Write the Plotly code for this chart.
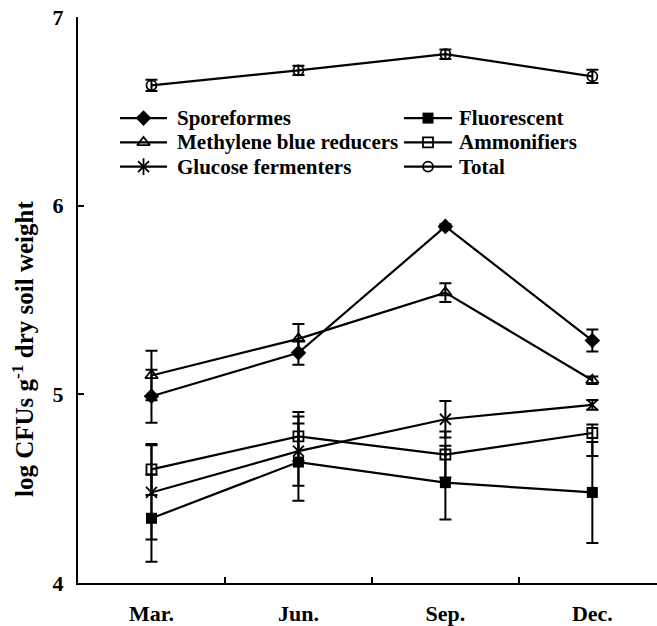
import plotly.graph_objects as go

months = ["Mar.", "Jun.", "Sep.", "Dec."]

sporeformes = [4.99, 5.22, 5.89, 5.285]
sporeformes_err = [0.14, 0.063, 0.012, 0.058]

fluorescent = [4.343, 4.641, 4.532, 4.48]
fluorescent_err = [0.231, 0.205, 0.196, 0.268]

methylene = [5.10, 5.294, 5.539, 5.075]
methylene_err = [0.131, 0.079, 0.05, 0.02]

ammonifiers = [4.602, 4.777, 4.681, 4.795]
ammonifiers_err_plus = [0.135, 0.13, 0.122, 0.045]
ammonifiers_err_minus = [0.135, 0.13, 0.122, 0.122]

glucose = [4.48, 4.699, 4.868, 4.944]
glucose_err = [0.25, 0.184, 0.097, 0.026]

total = [6.638, 6.717, 6.803, 6.685]
total_err = [0.03, 0.025, 0.025, 0.035]

FONT = "Liberation Serif"
FS = 22
LEG_FS = 21

# plot area geometry (pixels) used to place the hand-drawn legend
L, T, W, H = 78, 17, 579, 571


def px(x):
    return (x - L) / W


def py(y):
    return (T + H - y) / H


def err(arr, minus=None):
    d = dict(type="data", array=arr, visible=True, color="black", thickness=2, width=6)
    if minus is not None:
        d["symmetric"] = False
        d["arrayminus"] = minus
    return d


open_line = dict(width=1.8, color="black")
series = [
    ("Sporeformes", sporeformes, err(sporeformes_err),
     [dict(symbol="diamond", size=12, color="black")]),
    ("Fluorescent", fluorescent, err(fluorescent_err),
     [dict(symbol="square", size=11, color="black")]),
    ("Methylene blue reducers", methylene, err(methylene_err),
     [dict(symbol="triangle-up-open", size=11, color="black", line=open_line)]),
    ("Ammonifiers", ammonifiers, err(ammonifiers_err_plus, ammonifiers_err_minus),
     [dict(symbol="square-open", size=10, color="black", line=open_line)]),
    ("Glucose fermenters", glucose, err(glucose_err),
     [dict(symbol="x-thin-open", size=11, color="black", line=open_line),
      dict(symbol="line-ns-open", size=12, color="black", line=open_line)]),
    ("Total", total, err(total_err),
     [dict(symbol="circle-open", size=10, color="black", line=open_line)]),
]

fig = go.Figure()
for name, vals, e, mks in series:
    fig.add_trace(go.Scatter(
        x=months, y=vals, name=name, mode="lines+markers",
        line=dict(color="black", width=2.2),
        marker=mks[0], error_y=e, showlegend=False,
    ))

# hand-drawn two-column legend
rows = [119, 143.5, 168]
cols = [(120, 167, 175), (404, 452, 457)]
annotations = []
for i, (name, vals, e, mks) in enumerate(series):
    r, c = divmod(i, 2)
    x0, x1, xt = cols[c]
    yy = py(rows[r])
    xm = px((x0 + x1) / 2)
    fig.add_trace(go.Scatter(
        x=[px(x0), px(x1)], y=[yy, yy], mode="lines",
        line=dict(color="black", width=2.2), xaxis="x2", yaxis="y2",
        showlegend=False, hoverinfo="skip",
    ))
    for mk in mks:
        fig.add_trace(go.Scatter(
            x=[xm], y=[yy], mode="markers", marker=mk, xaxis="x2", yaxis="y2",
            showlegend=False, hoverinfo="skip",
        ))
    annotations.append(dict(
        text=name, xref="paper", yref="paper", x=px(xt), y=yy,
        xanchor="left", yanchor="middle", showarrow=False,
        font=dict(family=FONT, size=LEG_FS, color="black", weight="bold"),
    ))

annotations.append(dict(
    text="log CFUs g<sup>-1</sup> dry soil weight",
    xref="paper", yref="paper", x=px(23), y=py(352),
    xanchor="center", yanchor="middle", textangle=-90, showarrow=False,
    font=dict(family=FONT, size=25, color="black", weight="bold"),
))

fig.update_layout(
    width=657, height=626,
    margin=dict(l=L, r=657 - L - W, t=T, b=626 - T - H),
    paper_bgcolor="white", plot_bgcolor="white",
    font=dict(family=FONT, size=FS, color="black", weight="bold"),
    showlegend=False,
    xaxis=dict(
        type="category", categoryorder="array", categoryarray=months,
        range=[-0.5, 3.44], tickson="boundaries",
        ticks="inside", ticklen=6, tickwidth=1.5, tickcolor="black",
        showline=True, linewidth=2, linecolor="black",
        showgrid=False, zeroline=False, ticklabelstandoff=10,
        tickfont=dict(family=FONT, size=FS, color="black", weight="bold"),
    ),
    yaxis=dict(
        range=[4, 7], tickvals=[4, 5, 6, 7],
        ticks="inside", ticklen=6, tickwidth=1.5, tickcolor="black",
        showline=True, linewidth=2, linecolor="black",
        showgrid=False, zeroline=False, ticklabelstandoff=8,
        tickfont=dict(family=FONT, size=FS, color="black", weight="bold"),
    ),
    xaxis2=dict(overlaying="x", range=[0, 1], visible=False, fixedrange=True),
    yaxis2=dict(overlaying="y", range=[0, 1], visible=False, fixedrange=True),
    annotations=annotations,
)

fig.write_html("out.html")
